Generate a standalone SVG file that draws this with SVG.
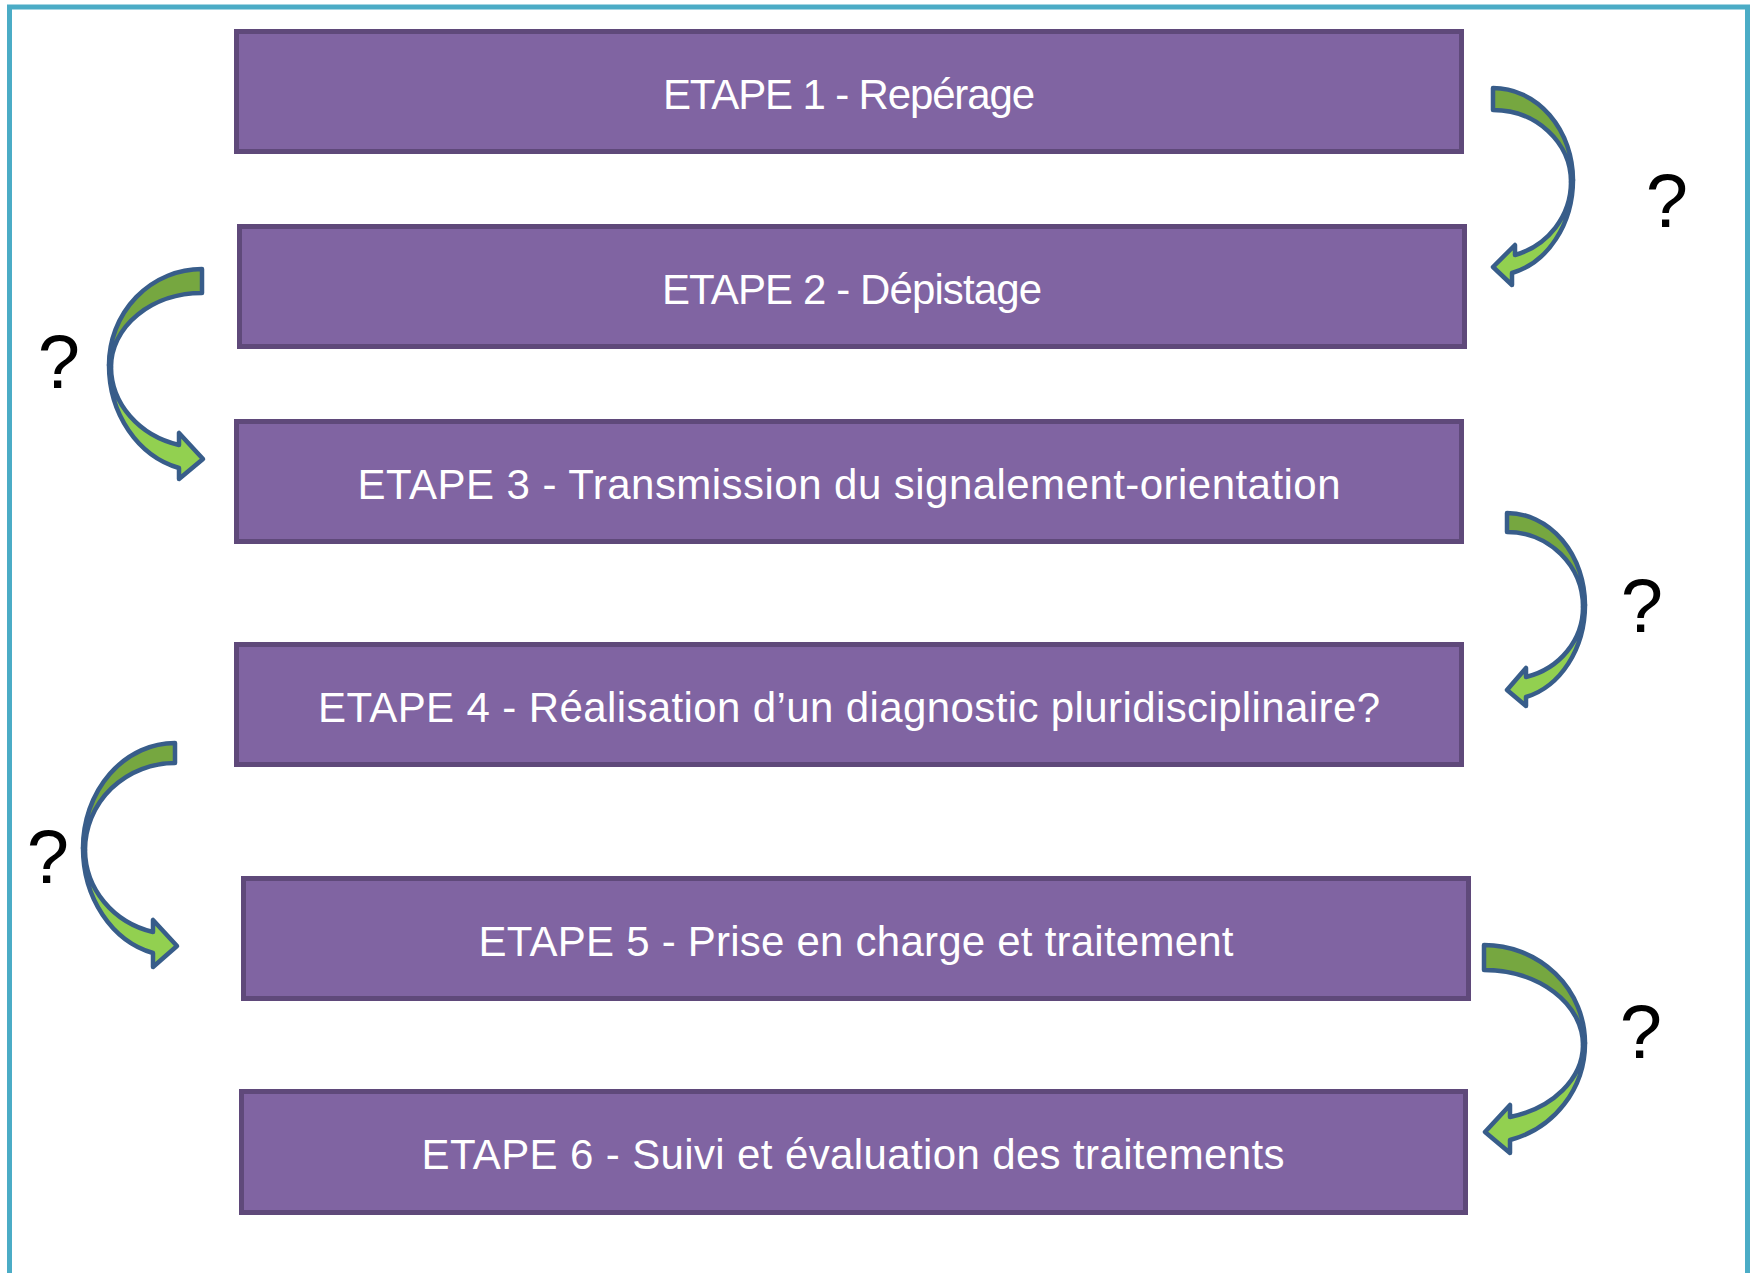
<svg xmlns="http://www.w3.org/2000/svg" width="1754" height="1273" viewBox="0 0 1754 1273">
  <style>
    .box { fill: #8064A2; stroke: #5F497A; stroke-width: 5; }
    .label { font-family: "Liberation Sans", Arial, sans-serif; font-size: 42px; fill: #FFFFFF; text-anchor: middle; }
    .q { font-family: "Liberation Sans", Arial, sans-serif; font-size: 76px; fill: #000000; text-anchor: middle; }
    .back { fill: #76A740; stroke: #385D8A; stroke-width: 4.5; stroke-linejoin: round; }
    .front { fill: #92D050; stroke: #385D8A; stroke-width: 4.5; stroke-linejoin: round; }
  </style>

  <rect x="0" y="0" width="1754" height="1273" fill="#FFFFFF"/>
  <!-- outer frame -->
  <rect x="9.5" y="7" width="1738" height="1290" fill="none" stroke="#4BACC6" stroke-width="5"/>

  <g id="step1">
    <rect class="box" x="236.5" y="31.5" width="1225" height="120"/>
    <text class="label" x="849" y="109" textLength="372">ETAPE 1 - Repérage</text>
  </g>
  <g id="step2">
    <rect class="box" x="239.5" y="226.5" width="1225" height="120"/>
    <text class="label" x="852" y="304" textLength="380">ETAPE 2 - Dépistage</text>
  </g>
  <g id="step3">
    <rect class="box" x="236.5" y="421.5" width="1225" height="120"/>
    <text class="label" x="849" y="499" textLength="983">ETAPE 3 - Transmission du signalement-orientation</text>
  </g>
  <g id="step4">
    <rect class="box" x="236.5" y="644.5" width="1225" height="120"/>
    <text class="label" x="849" y="722" textLength="1062">ETAPE 4 - Réalisation d’un diagnostic pluridisciplinaire?</text>
  </g>
  <g id="step5">
    <rect class="box" x="243.5" y="878.5" width="1225" height="120"/>
    <text class="label" x="856" y="956" textLength="755">ETAPE 5 - Prise en charge et traitement</text>
  </g>
  <g id="step6">
    <rect class="box" x="241.5" y="1091.5" width="1224" height="121"/>
    <text class="label" x="853" y="1169" textLength="863">ETAPE 6 - Suivi et évaluation des traitements</text>
  </g>

  <g id="connectors">
    <!-- 1 -> 2, right side -->
    <g id="arrow-1-2">
      <path class="back" d="M1493,88 A80,92 0 0 1 1573,180 L1571,182 A78,72 0 0 0 1493,110 Z"/>
      <path class="front" d="M1573,180 A80,96 0 0 1 1512,273 L1512,285 L1493,267 L1515,245 L1515,255 A78,76 0 0 0 1571,182 Z"/>
      <text class="q" x="1667" y="227">?</text>
    </g>
    <!-- 2 -> 3, left side -->
    <g id="arrow-2-3">
      <path class="back" d="M202,269 A93,96 0 0 0 109,365 L111,367 A91,74 0 0 1 202,293 Z"/>
      <path class="front" d="M109,365 A93,106 0 0 0 179,468 L179,479 L203,459 L179,433 L179,445 A91,81 0 0 1 111,367 Z"/>
      <text class="q" x="59" y="388">?</text>
    </g>
    <!-- 3 -> 4, right side -->
    <g id="arrow-3-4">
      <path class="back" d="M1507,513 A78,92 0 0 1 1585,605 L1583,607 A76,75 0 0 0 1507,532 Z"/>
      <path class="front" d="M1585,605 A78,95 0 0 1 1526,697 L1526,706 L1507,690 L1526,668 L1526,677 A76,72 0 0 0 1583,607 Z"/>
      <text class="q" x="1642" y="632">?</text>
    </g>
    <!-- 4 -> 5, left side -->
    <g id="arrow-4-5">
      <path class="back" d="M175,743 A92,105 0 0 0 83,848 L85,850 A90,87 0 0 1 175,763 Z"/>
      <path class="front" d="M83,848 A92,108 0 0 0 153,953 L153,967 L177,946 L153,920 L153,932 A90,85 0 0 1 85,850 Z"/>
      <text class="q" x="48" y="883">?</text>
    </g>
    <!-- 5 -> 6, right side -->
    <g id="arrow-5-6">
      <path class="back" d="M1484,945 A101,98 0 0 1 1585,1043 L1583,1045 A99,75 0 0 0 1484,970 Z"/>
      <path class="front" d="M1585,1043 A101,100 0 0 1 1510,1140 L1510,1153 L1485,1132 L1510,1105 L1510,1117 A99,75 0 0 0 1583,1045 Z"/>
      <text class="q" x="1641" y="1058">?</text>
    </g>
  </g>
</svg>
